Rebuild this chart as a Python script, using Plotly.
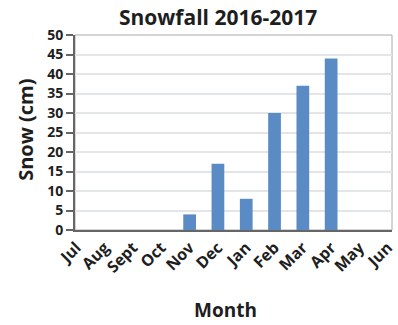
import plotly.graph_objects as go

months = ["Jul", "Aug", "Sept", "Oct", "Nov", "Dec", "Jan", "Feb", "Mar", "Apr", "May", "Jun"]
snow_cm = [0, 0, 0, 0, 4, 17, 8, 30, 37, 44, 0, 0]
y_ticks = [0, 5, 10, 15, 20, 25, 30, 35, 40, 45, 50]

FONT = "Open Sans"
TEXT = "#1e1e1e"

fig = go.Figure(
    go.Bar(
        x=list(range(len(months))),
        y=snow_cm,
        width=0.45,
        marker=dict(color="#5b8bc5", line=dict(width=0)),
    )
)

fig.update_layout(
    width=398,
    height=325,
    margin=dict(l=75, r=1, t=35, b=95),
    paper_bgcolor="white",
    plot_bgcolor="white",
    showlegend=False,
    font=dict(family=FONT, color=TEXT),
    xaxis=dict(
        tickmode="array",
        tickvals=list(range(len(months))),
        ticktext=[f"<b>{m}</b>" for m in months],
        tickangle=-45,
        tickfont=dict(size=16, family=FONT, color=TEXT),
        ticklabeloverflow="allow",
        range=[-0.05, 11.15],
        showgrid=False,
        zeroline=False,
        showline=True,
        linecolor="#666666",
        linewidth=2,
        ticks="",
    ),
    yaxis=dict(
        tickmode="array",
        tickvals=y_ticks,
        ticktext=[f"<b>{v}</b>" for v in y_ticks],
        tickfont=dict(size=14, family=FONT, color=TEXT),
        range=[0, 50],
        showgrid=True,
        gridcolor="#e3e6e8",
        gridwidth=1.5,
        zeroline=False,
        showline=True,
        linecolor="#666666",
        linewidth=2,
        ticks="outside",
        ticklen=7,
        tickcolor="#666666",
        tickwidth=1.5,
    ),
    shapes=[
        dict(
            type="rect", xref="paper", yref="paper", x0=0, x1=1, y0=0, y1=1,
            line=dict(color="#aaaaaa", width=1), layer="below",
        )
    ],
    annotations=[
        dict(
            text="<b>Snowfall 2016-2017</b>", xref="paper", yref="paper",
            x=0.45, y=1.09, xanchor="center", yanchor="middle", showarrow=False,
            font=dict(size=21, family=FONT, color=TEXT),
        ),
        dict(
            text="<b>Month</b>", xref="paper", yref="paper",
            x=0.475, y=-0.41, xanchor="center", yanchor="middle", showarrow=False,
            font=dict(size=19, family=FONT, color=TEXT),
        ),
        dict(
            text="<b>Snow (cm)</b>", xref="paper", yref="paper", textangle=-90,
            x=-0.155, y=0.513, xanchor="center", yanchor="middle", showarrow=False,
            font=dict(size=20, family=FONT, color=TEXT),
        ),
    ],
)

fig.write_html("out.html")
